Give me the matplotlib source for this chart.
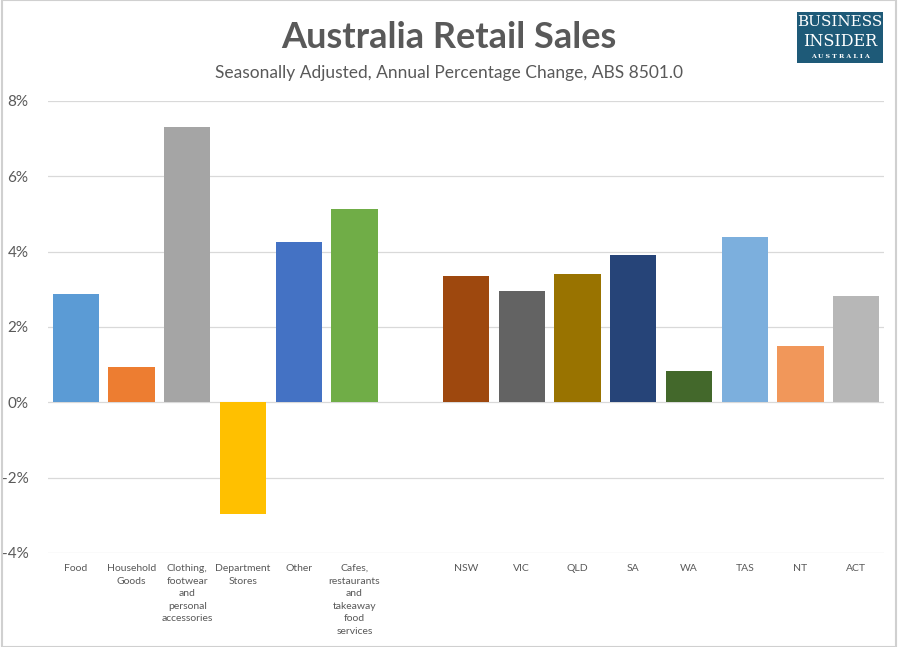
import matplotlib
matplotlib.use("Agg")
import matplotlib.pyplot as plt
from matplotlib.patches import Rectangle

categories = ["Food", "Household\nGoods", "Clothing,\nfootwear\nand\npersonal\naccessories",
              "Department\nStores", "Other", "Cafes,\nrestaurants\nand\ntakeaway\nfood\nservices",
              "", "NSW", "VIC", "QLD", "SA", "WA", "TAS", "NT", "ACT"]
values = [2.87, 0.93, 7.30, -2.97, 4.25, 5.13, None,
          3.35, 2.95, 3.40, 3.90, 0.82, 4.38, 1.49, 2.82]
colors = ["#5B9BD5", "#ED7D31", "#A5A5A5", "#FFC000", "#4472C4", "#70AD47", "none",
          "#9E480E", "#636363", "#997300", "#264478", "#43682B", "#7CAFDD", "#F1975A", "#B7B7B7"]
yticks = [-4, -2, 0, 2, 4, 6, 8]

plt.rcParams['font.family'] = ['Lato', 'DejaVu Sans']

fig = plt.figure(figsize=(8.98, 6.47), dpi=100)
ax = fig.add_axes([48/898, 1-553/647, (884-48)/898, (553-101)/647])

x = list(range(len(categories)))
for i, (v, c) in enumerate(zip(values, colors)):
    if v is None:
        continue
    ax.bar(i, v, width=0.83, color=c, zorder=3)

ax.set_xlim(-0.5, len(categories) - 0.5)
ax.set_ylim(-4, 8)
ax.set_yticks(yticks)
ax.set_yticklabels([f"{t}%" for t in yticks], color="#595959", fontsize=11)
ax.set_xticks(x)
ax.set_xticklabels(categories, fontsize=7.5, color="#595959", linespacing=1.5, va="top")
ax.tick_params(axis="both", length=0)
ax.tick_params(axis="y", pad=14)
ax.tick_params(axis="x", pad=8)
ax.grid(axis="y", color="#D9D9D9", linewidth=0.9, zorder=0)
for s in ax.spines.values():
    s.set_visible(False)

fig.text(449/898, 1-37/647, "Australia Retail Sales", ha="center", va="center",
         fontsize=26, fontweight="bold", color="#595959")
fig.text(449/898, 1-73/647, "Seasonally Adjusted, Annual Percentage Change, ABS 8501.0",
         ha="center", va="center", fontsize=12.5, color="#595959")

# logo
fig.patches.append(Rectangle((797/898, 1-63/647), 86/898, 51/647, transform=fig.transFigure,
                             facecolor="#1E5A78", edgecolor="none"))
fig.text(840/898, 1-22/647, "BUSINESS", ha="center", va="center", fontsize=11,
         family="DejaVu Serif", color="white")
fig.text(840/898, 1-41/647, "INSIDER", ha="center", va="center", fontsize=11.5,
         family="DejaVu Serif", color="white")
fig.text(840/898, 1-57/647, "A U S T R A L I A", ha="center", va="center", fontsize=4.5,
         family="DejaVu Serif", color="white", fontweight="bold")

# image border
fig.patches.append(Rectangle((2/898, 0), 1 - 4/898, 1, transform=fig.transFigure,
                             facecolor="none", edgecolor="#D0D0D0", linewidth=1.5))

fig.savefig("out.png", dpi=100)
